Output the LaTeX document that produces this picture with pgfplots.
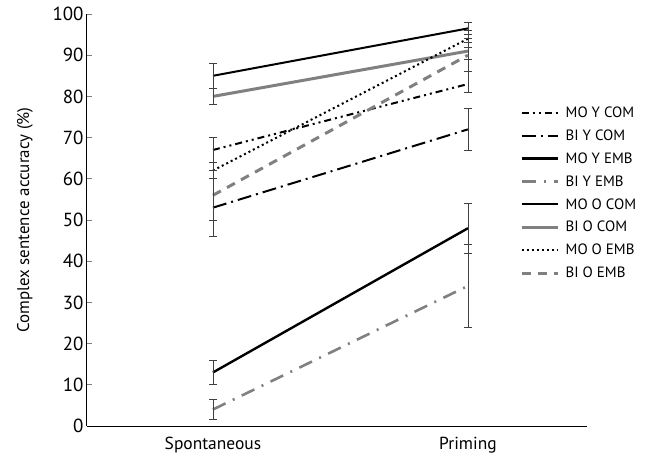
\documentclass[border=0pt]{standalone}
\usepackage{fontspec}
\setmainfont{PT Sans}
\usepackage{pgfplots}
\pgfplotsset{compat=1.18}
\usetikzlibrary{calc}
\definecolor{lgray}{gray}{0.5}
\pgfplotsset{
  legend image code/.code={\draw[#1] (0bp,0bp) -- (36bp,0bp);},
}
\begin{document}
\begin{tikzpicture}
\begin{axis}[
  scale only axis,
  width=500bp, height=412bp,
  xmin=-0.494, xmax=1.467,
  ymin=0, ymax=100,
  axis x line=bottom, axis y line=left,
  axis line style={-, line width=1bp},
  xtick={0,1}, xticklabels={Spontaneous,Priming},
  xtick style={draw=none},
  ytick={0,10,...,100},
  major tick length=5bp,
  ytick style={line width=0.8bp},
  tick align=inside,
  /pgf/number format/assume math mode=true,
  yticklabel style={font=\fontsize{19}{21}\selectfont},
  xticklabel style={font=\fontsize{17.5}{20}\selectfont, yshift=-8bp},
  every axis y label/.style={at={(axis description cs:-0.124,0.5)}, rotate=90, anchor=center},
  ylabel={Complex sentence accuracy (\%)},
  label style={font=\fontsize{17}{19}\selectfont},
  legend style={at={(rel axis cs:0.86,0.785)}, anchor=north west, draw=none, fill=none,
    font=\fontsize{15}{17}\selectfont, row sep=6.8bp, legend cell align=left,
    nodes={inner xsep=6.5bp}},
  error bars/y dir=both, error bars/y explicit,
  error bars/error bar style={solid, line width=0.8bp, black!75},
  error bars/error mark options={rotate=90, mark size=4bp, line width=0.8bp, black!75},
]
\addplot[black, line width=2bp, dash pattern=on 7bp off 4bp on 2bp off 4bp on 2bp off 4bp]
  coordinates {(0,67) += (0,3) -= (0,3) (1,83) += (0,3) -= (0,2)};
\addlegendentry{MO Y COM}
\addplot[black, line width=2bp, dash pattern=on 14bp off 5bp on 2bp off 5bp]
  coordinates {(0,53) += (0,7) -= (0,7) (1,72) += (0,5) -= (0,5)};
\addlegendentry{BI Y COM}
\addplot[black, line width=2.4bp]
  coordinates {(0,13) += (0,3) -= (0,3) (1,48) += (0,6) -= (0,6)};
\addlegendentry{MO Y EMB}
\addplot[lgray, line width=2.6bp, dash pattern=on 14bp off 8bp on 2bp off 8bp]
  coordinates {(0,4) += (0,2.5) -= (0,2.5) (1,34) += (0,10) -= (0,10)};
\addlegendentry{BI Y EMB}
\addplot[black, line width=2bp]
  coordinates {(0,85) += (0,3) -= (0,3) (1,96.5) += (0,1.5) -= (0,1.5)};
\addlegendentry{MO O COM}
\addplot[lgray, line width=3bp]
  coordinates {(0,80) += (0,2) -= (0,2) (1,91) += (0,2) -= (0,2)};
\addlegendentry{BI O COM}
\addplot[black, line width=2bp, dash pattern=on 2bp off 3bp]
  coordinates {(0,62) += (0,2) -= (0,2) (1,94) += (0,2) -= (0,2)};
\addlegendentry{MO O EMB}
\addplot[lgray, line width=3bp, dash pattern=on 9bp off 7bp]
  coordinates {(0,56) += (0,6) -= (0,6) (1,90) += (0,4) -= (0,4)};
\addlegendentry{BI O EMB}
\end{axis}
\pgfresetboundingbox
\path ($(current axis.south west)+(-87bp,-38bp)$) rectangle ($(current axis.north west)+(573bp,14bp)$);
\end{tikzpicture}
\end{document}
